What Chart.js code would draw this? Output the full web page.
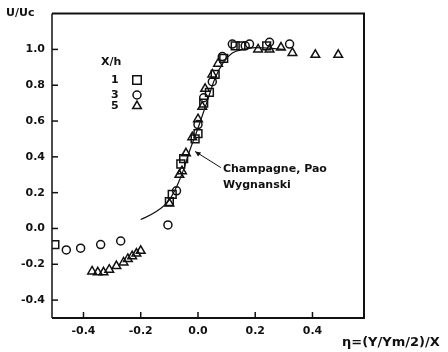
<!DOCTYPE html>
<html>
<head>
<meta charset="utf-8">
<script src="https://cdn.jsdelivr.net/npm/chart.js@4/dist/chart.umd.min.js"></script>
<style>
  html, body { margin: 0; padding: 0; background: #fff; }
  #wrap { width: 448px; height: 352px; }
</style>
</head>
<body>
<div id="wrap"><canvas id="chart" width="448" height="352"></canvas></div>
<script>
// tick values on both axes
const xTicks = [-0.4, -0.2, 0.0, 0.2, 0.4];
const yTicks = [-0.4, -0.2, 0.0, 0.2, 0.4, 0.6, 0.8, 1.0];

// X/h = 1 (squares)
const sqX = [-0.50, -0.10, -0.09, -0.06, -0.05, -0.01, 0.00, 0.02, 0.04, 0.06, 0.09, 0.13, 0.15, 0.24];
const sqY = [-0.09, 0.15, 0.19, 0.36, 0.39, 0.50, 0.53, 0.70, 0.76, 0.86, 0.95, 1.02, 1.02, 1.02];

// X/h = 3 (circles)
const ciX = [-0.46, -0.41, -0.34, -0.27, -0.105, -0.075, 0.00, 0.02, 0.05, 0.085, 0.12, 0.165, 0.18, 0.25, 0.32];
const ciY = [-0.12, -0.11, -0.09, -0.07, 0.02, 0.21, 0.58, 0.73, 0.82, 0.96, 1.03, 1.02, 1.03, 1.04, 1.03];

// X/h = 5 (triangles)
const trX = [-0.37, -0.35, -0.33, -0.31, -0.285, -0.26, -0.245, -0.23, -0.215, -0.20,
             -0.10, -0.065, -0.056, -0.042, -0.02, 0.00, 0.015, 0.025, 0.05, 0.07,
             0.21, 0.25, 0.29, 0.33, 0.41, 0.49];
const trY = [-0.24, -0.245, -0.245, -0.23, -0.21, -0.19, -0.17, -0.155, -0.14, -0.125,
             0.14, 0.30, 0.32, 0.42, 0.51, 0.61, 0.68, 0.78, 0.86, 0.92,
             1.00, 1.00, 1.01, 0.98, 0.97, 0.97];

// Champagne, Pao, Wygnanski curve
const cvX = [-0.20, -0.15, -0.10, -0.07, -0.05, -0.03, 0.00, 0.03, 0.06, 0.09, 0.12, 0.16, 0.20, 0.30];
const cvY = [0.05, 0.09, 0.16, 0.25, 0.33, 0.43, 0.56, 0.70, 0.84, 0.93, 0.98, 1.00, 1.01, 1.00];

const pts = (xs, ys) => xs.map((x, i) => ({ x: x, y: ys[i] }));

const INK = "#111";
const tickFont = { family: "DejaVu Sans", size: 11, weight: "bold" };

const extras = {
    id: "extras",
    afterDraw(chart) {
        const ctx = chart.ctx;
        const a = chart.chartArea;
        const xs = chart.scales.x, ys = chart.scales.y;
        ctx.save();
        ctx.strokeStyle = INK;
        ctx.fillStyle = INK;

        // frame
        ctx.lineWidth = 2;
        ctx.beginPath();
        ctx.moveTo(a.left, a.top); ctx.lineTo(a.right, a.top);
        ctx.lineTo(a.right, a.bottom); ctx.lineTo(a.left, a.bottom);
        ctx.stroke();
        ctx.lineWidth = 1.5;
        ctx.beginPath();
        ctx.moveTo(a.left, a.top); ctx.lineTo(a.left, a.bottom);
        ctx.stroke();

        // inward ticks
        ctx.lineWidth = 1.5;
        xTicks.forEach(v => {
            const p = xs.getPixelForValue(v);
            ctx.beginPath(); ctx.moveTo(p, a.bottom); ctx.lineTo(p, a.bottom - 6); ctx.stroke();
        });
        yTicks.forEach(v => {
            const p = ys.getPixelForValue(v);
            ctx.beginPath(); ctx.moveTo(a.left, p); ctx.lineTo(a.left + 6, p); ctx.stroke();
        });

        // axis titles
        ctx.font = "bold 11px 'DejaVu Sans'";
        ctx.textBaseline = "middle";
        ctx.textAlign = "left";
        ctx.fillText("U/Uc", 6, 13);
        ctx.font = "bold 13px 'DejaVu Sans'";
        ctx.fillText("\u03B7=(Y/Ym/2)/X", 342, 343);

        // legend
        ctx.font = "bold 11px 'DejaVu Sans'";
        ctx.fillText("X/h", 101, 62);
        const leg = [["1", "rect", 6, 80], ["3", "circle", 4, 95], ["5", "triangle", 5, 106]];
        leg.forEach(l => {
            const yy = l[3];
            ctx.fillStyle = INK;
            ctx.fillText(l[0], 111, yy);
            ctx.fillStyle = "#fff";
            ctx.lineWidth = 1.5;
            Chart.helpers.drawPoint(ctx, { pointStyle: l[1], radius: l[2], borderWidth: 1.5 }, 137, yy);
        });
        ctx.fillStyle = INK;

        // annotation
        const tipX = xs.getPixelForValue(-0.01), tipY = ys.getPixelForValue(0.43);
        const txX = xs.getPixelForValue(0.08), txY = ys.getPixelForValue(0.34);
        ctx.lineWidth = 1;
        ctx.beginPath(); ctx.moveTo(tipX, tipY); ctx.lineTo(txX, txY); ctx.stroke();
        ctx.beginPath();
        ctx.moveTo(tipX, tipY); ctx.lineTo(tipX + 6, tipY + 1); ctx.lineTo(tipX + 3, tipY + 5);
        ctx.closePath(); ctx.fill();
        ctx.font = "bold 11px 'DejaVu Sans'";
        ctx.fillText("Champagne, Pao", txX + 2, txY + 2);
        ctx.fillText("Wygnanski", txX + 2, txY + 18);
        ctx.restore();
    }
};

const pointStyle = (style, r) => ({
    pointStyle: style,
    pointRadius: r,
    pointBackgroundColor: "rgba(255,255,255,0)",
    pointBorderColor: INK,
    pointBorderWidth: 1.5,
    showLine: false
});

new Chart(document.getElementById("chart"), {
    type: "scatter",
    data: {
        datasets: [
            { label: "curve", data: pts(cvX, cvY), showLine: true, pointRadius: 0,
              borderColor: INK, borderWidth: 1.2, cubicInterpolationMode: "monotone", fill: false },
            Object.assign({ label: "1", data: pts(sqX, sqY) }, pointStyle("rect", 5.5)),
            Object.assign({ label: "3", data: pts(ciX, ciY) }, pointStyle("circle", 4)),
            Object.assign({ label: "5", data: pts(trX, trY) }, pointStyle("triangle", 5))
        ]
    },
    options: {
        responsive: false,
        animation: false,
        layout: { padding: { top: 10, right: 84, left: 0, bottom: 0 } },
        plugins: { legend: { display: false }, tooltip: { enabled: false } },
        scales: {
            x: {
                type: "linear", min: -0.51, max: 0.58,
                afterBuildTicks: s => { s.ticks = xTicks.map(v => ({ value: v })); },
                afterFit: s => { s.height = 34; },
                grid: { display: false, drawTicks: false },
                border: { display: false },
                ticks: { color: INK, font: tickFont, padding: 7, maxRotation: 0,
                         callback: v => v.toFixed(1) }
            },
            y: {
                type: "linear", min: -0.5, max: 1.2,
                afterBuildTicks: s => { s.ticks = yTicks.map(v => ({ value: v })); },
                afterFit: s => { s.width = 52; },
                grid: { display: false, drawTicks: false },
                border: { display: false },
                ticks: { color: INK, font: tickFont, padding: 7,
                         callback: v => v.toFixed(1) }
            }
        }
    },
    plugins: [extras]
});
</script>
</body>
</html>
